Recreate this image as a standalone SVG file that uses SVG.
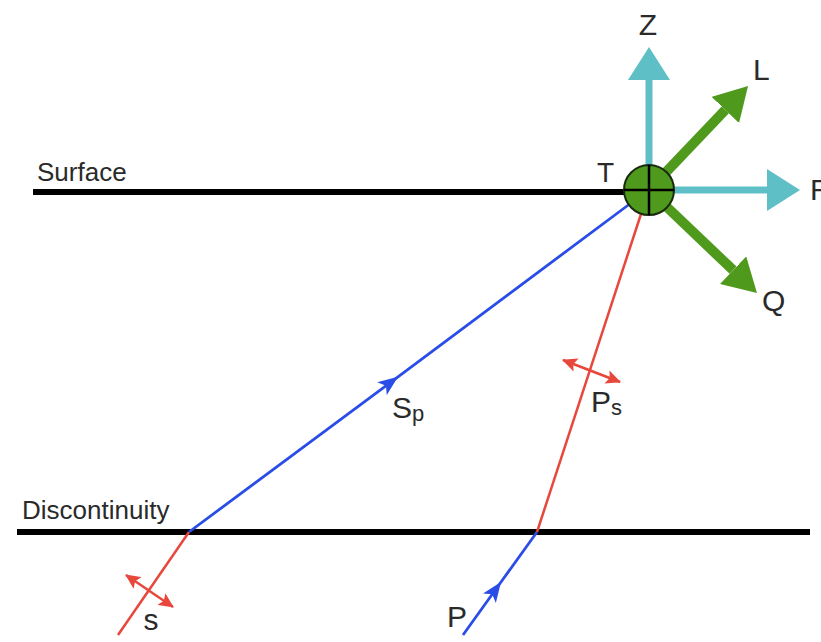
<svg xmlns="http://www.w3.org/2000/svg" width="821" height="642" viewBox="0 0 821 642">
<style>
.lbl{font-family:"Liberation Sans",Arial,sans-serif;fill:#2a2a2a;}
.big{font-size:30px;}
.sub{font-size:22px;}
.name{font-size:26px;}
.ground{stroke:#000;stroke-width:6;fill:none;}
.blue{stroke:#2a4de8;stroke-width:2.8;fill:none;}
.red{stroke:#e8473b;stroke-width:2.5;fill:none;}
.teal{stroke:#5fbfc6;stroke-width:7;fill:none;}
.green{stroke:#4f9a1c;stroke-width:10;fill:none;}
</style>
<defs>
<marker id="tealHead" markerUnits="userSpaceOnUse" markerWidth="34" markerHeight="42" refX="0" refY="21" orient="auto">
<path d="M0,0 L33,21 L0,42 Z" fill="#5fbfc6"/>
</marker>
<marker id="greenHead" markerUnits="userSpaceOnUse" markerWidth="34" markerHeight="38" refX="0" refY="19" orient="auto">
<path d="M0,0 L33,19 L0,38 Z" fill="#4f9a1c"/>
</marker>
<marker id="blueHead" markerUnits="userSpaceOnUse" markerWidth="22" markerHeight="16" refX="20" refY="8" orient="auto">
<path d="M0,0 L20,8 L0,16 L5,8 Z" fill="#2a4de8"/>
</marker>
<marker id="redHead" markerUnits="userSpaceOnUse" markerWidth="16" markerHeight="14" refX="14" refY="7" orient="auto-start-reverse">
<path d="M0,0 L15,7 L0,14 L3,7 Z" fill="#e8473b"/>
</marker>
</defs>

<g id="surface">
<line class="ground" x1="33" y1="192" x2="630" y2="192"/>
<text class="lbl name" x="37" y="181">Surface</text>
</g>
<g id="discontinuity">
<line class="ground" x1="17" y1="532" x2="810" y2="532"/>
<text class="lbl name" x="22" y="519">Discontinuity</text>
</g>

<g id="connectors">
<path id="ray-S" class="red" d="M118,635 L189,532"/>
<path id="ray-Sp" class="blue" d="M189,532 L398,376.8 L631,203" marker-mid="url(#blueHead)"/>
<path id="ray-P" class="blue" d="M463,635 L501,582 L537,532" marker-mid="url(#blueHead)"/>
<path id="ray-Ps" class="red" d="M537,532 L641,214"/>
<line id="pol-S" class="red" x1="126" y1="575" x2="173" y2="607" marker-start="url(#redHead)" marker-end="url(#redHead)"/>
<line id="pol-Ps" class="red" x1="563" y1="360" x2="620" y2="382" marker-start="url(#redHead)" marker-end="url(#redHead)"/>
<line id="axis-Z" class="teal" x1="649" y1="190" x2="649" y2="80" marker-end="url(#tealHead)"/>
<line id="axis-R" class="teal" x1="649" y1="190" x2="767" y2="190" marker-end="url(#tealHead)"/>
<line id="axis-L" class="green" x1="649" y1="190" x2="725.3" y2="109.9" marker-end="url(#greenHead)"/>
<line id="axis-Q" class="green" x1="649" y1="190" x2="733.1" y2="270.2" marker-end="url(#greenHead)"/>
</g>

<g id="station-T">
<circle cx="649" cy="190" r="25" fill="#4f9a1c" stroke="#1a2a10" stroke-width="2"/>
<line x1="624" y1="190" x2="674" y2="190" stroke="#000" stroke-width="2.5"/>
<line x1="649" y1="165" x2="649" y2="215" stroke="#000" stroke-width="2.5"/>
<text class="lbl" font-size="28" x="597" y="182">T</text>
</g>

<g id="labels">
<text class="lbl big" x="648" y="35" text-anchor="middle">Z</text>
<text class="lbl big" x="753" y="80">L</text>
<text class="lbl big" x="810" y="200">R</text>
<text class="lbl big" x="762" y="311">Q</text>
<text class="lbl big" x="392" y="418">S<tspan class="sub" dy="3">p</tspan></text>
<text class="lbl big" x="591" y="412">P<tspan class="sub" dy="3">s</tspan></text>
<text class="lbl big" x="151" y="630" text-anchor="middle">s</text>
<text class="lbl big" x="447" y="627">P</text>
</g>
</svg>
